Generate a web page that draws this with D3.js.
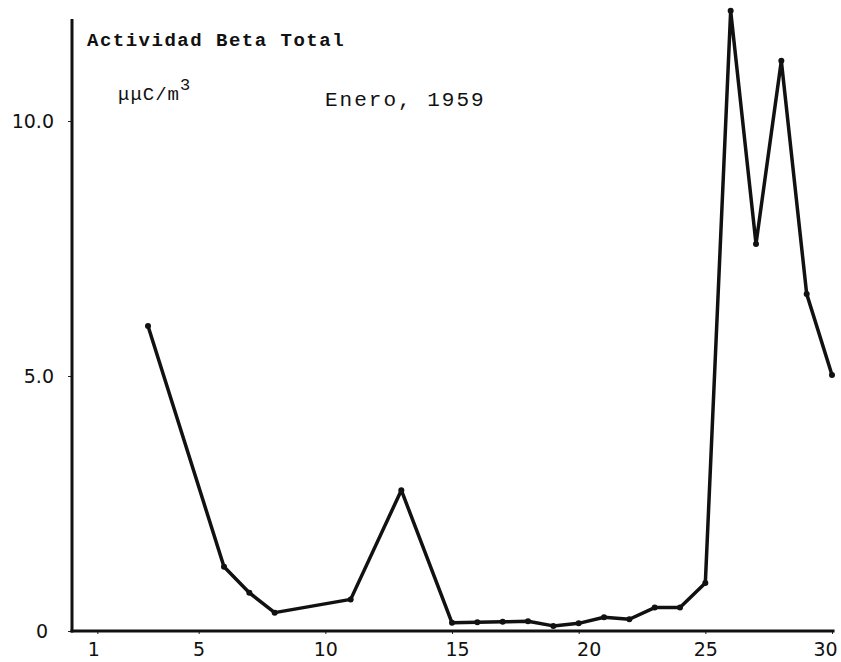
<!DOCTYPE html>
<html>
<head>
<meta charset="utf-8">
<script src="https://cdnjs.cloudflare.com/ajax/libs/d3/7.8.5/d3.min.js"></script>
<style>
  body { margin: 0; background: #fff; }
  .tick text { font-family: "DejaVu Sans", sans-serif; font-size: 19px; fill: #111; }
  .typed { font-family: "Liberation Mono", "DejaVu Sans Mono", monospace; fill: #111; }
</style>
</head>
<body>
<div id="chart"></div>
<script>
var width = 841;
var height = 662;

// days of January 1959 with a measurement
var days = [3, 6, 7, 8, 11, 13, 15, 16, 17, 18, 19, 20, 21, 22, 23, 24, 25, 26, 27, 28, 29, 30];
// total beta activity, uuC/m3
var activity = [5.98, 1.26, 0.75, 0.36, 0.62, 2.76, 0.16, 0.17, 0.18, 0.19, 0.10, 0.15, 0.27, 0.23, 0.46, 0.46, 0.94, 12.16, 7.59, 11.18, 6.61, 5.02];

var xTicks = [1, 5, 10, 15, 20, 25, 30];
var yTicks = [0, 5, 10];
var yTickLabels = ['0', '5.0', '10.0'];

// the labels were lettered by hand, a little off their ticks
var xLabelNudge = {1: -4, 15: 5, 20: 10, 30: -7};
var yLabelNudge = {0: -6};

// margins
var margin = {
    top: 19,
    right: 9,
    bottom: 31,
    left: 72
};

var chartHeight = height - margin.top - margin.bottom;
var chartWidth = width - margin.left - margin.right;

var svg = d3.select('#chart').append('svg')
    .attr('width', width)
    .attr('height', height)
    .append('g')
    .attr('transform', `translate(${margin.left}, ${margin.top})`);

var data = days.map((d, i) => ({ day: d, value: activity[i] }));

var xScale = d3.scaleLinear()
    .domain([0, 30])
    .range([0, chartWidth]);

var yScale = d3.scaleLinear()
    .domain([0, 12])
    .range([chartHeight, 0]);

// x axis
var xAxis_g = svg.append('g')
    .attr('transform', `translate(0, ${chartHeight})`)
    .call(d3.axisBottom(xScale).tickValues(xTicks).tickSize(3).tickPadding(9).tickFormat(d3.format('d')));

xAxis_g.selectAll('.tick text')
    .attr('dx', d => xLabelNudge[d] || 0);

// y axis
var yAxis_g = svg.append('g')
    .call(d3.axisLeft(yScale).tickValues(yTicks).tickSize(4).tickPadding(14)
        .tickFormat((d, i) => yTickLabels[i]));

yAxis_g.selectAll('.tick text')
    .attr('dx', d => yLabelNudge[d] || 0);

[xAxis_g, yAxis_g].forEach(function (g) {
    g.select('.domain').remove();
    g.selectAll('.tick line').attr('stroke', '#222').attr('stroke-width', 1);
});

// hand-drawn frame: left and bottom lines
svg.append('line')
    .attr('x1', 0).attr('x2', 0)
    .attr('y1', yScale(12)).attr('y2', yScale(0) + 1.5)
    .attr('stroke', '#111').attr('stroke-width', 3);
svg.append('line')
    .attr('x1', -1.5).attr('x2', xScale(30.1))
    .attr('y1', yScale(0)).attr('y2', yScale(0))
    .attr('stroke', '#111').attr('stroke-width', 3);

// data line
var line = d3.line()
    .x(d => xScale(d.day))
    .y(d => yScale(d.value));

svg.append('path')
    .datum(data)
    .attr('d', line)
    .attr('fill', 'none')
    .attr('stroke', '#111')
    .attr('stroke-width', 3.5)
    .attr('stroke-linejoin', 'round')
    .attr('stroke-linecap', 'round');

svg.selectAll('circle.pt')
    .data(data)
    .enter()
    .append('circle')
    .attr('class', 'pt')
    .attr('cx', d => xScale(d.day))
    .attr('cy', d => yScale(d.value))
    .attr('r', 3)
    .attr('fill', '#111');

// typed labels
svg.append('text')
    .attr('class', 'typed')
    .attr('x', 15)
    .attr('y', 27)
    .style('font-size', '19px')
    .style('font-weight', 'bold')
    .style('letter-spacing', '1.5px')
    .text('Actividad Beta Total');

var unit = svg.append('text')
    .attr('class', 'typed')
    .attr('x', 46)
    .attr('y', 81)
    .style('font-size', '19px')
    .style('letter-spacing', '1px');
unit.append('tspan').text('\u03bc\u03bcC/m');
unit.append('tspan')
    .attr('dy', -10)
    .style('font-size', '17px')
    .text('3');

svg.append('text')
    .attr('class', 'typed')
    .attr('x', 253)
    .attr('y', 87)
    .style('font-size', '21px')
    .style('letter-spacing', '2px')
    .text('Enero, 1959');
</script>
</body>
</html>
